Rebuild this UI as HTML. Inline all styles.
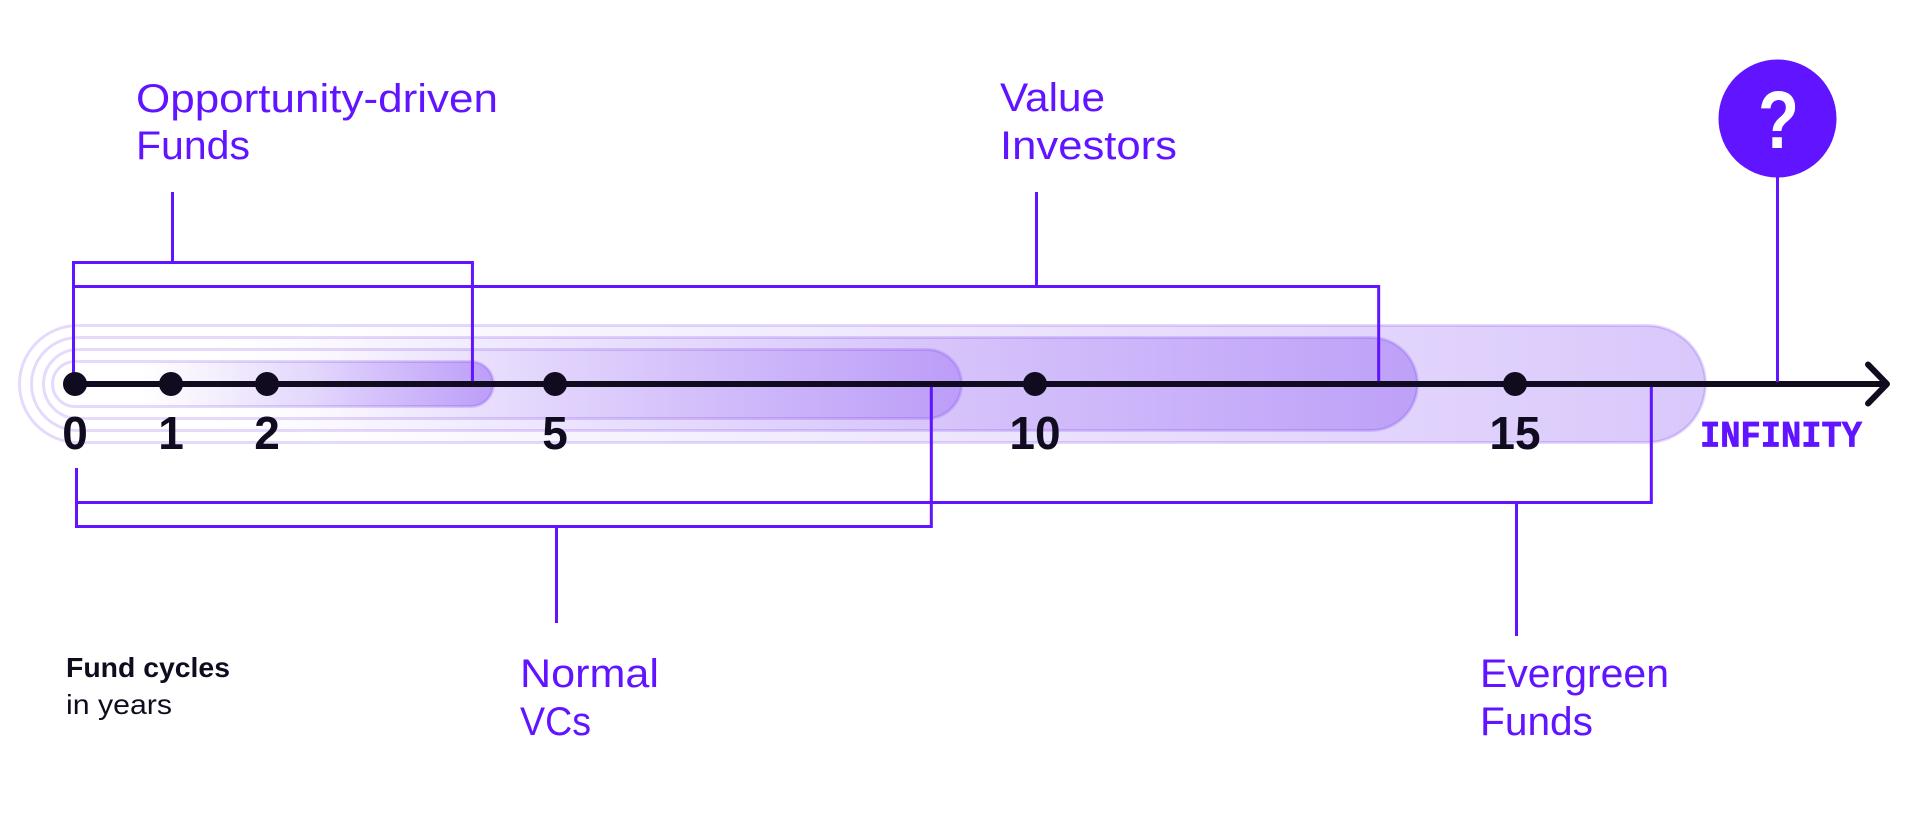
<!DOCTYPE html>
<html lang="en">
<head>
<meta charset="utf-8">
<title>Fund cycles in years</title>
<style>
  html, body { margin: 0; padding: 0; background: #ffffff; }
  svg { display: block; }
  .label { font-family: "Liberation Sans", sans-serif; font-size: 40px; fill: #6114ff; }
  .note { font-family: "Liberation Sans", sans-serif; font-size: 28px; fill: #110b1f; }
  .tick { font-family: "Liberation Sans", sans-serif; font-size: 46px; font-weight: 700; fill: #110b1f; text-anchor: middle; }
</style>
</head>
<body>
<svg id="chart" xmlns="http://www.w3.org/2000/svg" width="1920" height="816" viewBox="0 0 1920 816">
  <defs id="defs"></defs>
  <g id="bands"></g>
  <g id="brackets"></g>
  <g id="axis"></g>
  <g id="ticks"></g>

  <text class="label" x="136" y="112" textLength="362" lengthAdjust="spacingAndGlyphs">Opportunity-driven</text>
  <text class="label" x="136" y="159" textLength="114" lengthAdjust="spacingAndGlyphs">Funds</text>
  <text class="label" x="1000" y="111" textLength="105" lengthAdjust="spacingAndGlyphs">Value</text>
  <text class="label" x="1000" y="159" textLength="177" lengthAdjust="spacingAndGlyphs">Investors</text>
  <text class="label" x="520" y="687" textLength="139" lengthAdjust="spacingAndGlyphs">Normal</text>
  <text class="label" x="520" y="735" textLength="71" lengthAdjust="spacingAndGlyphs">VCs</text>
  <text class="label" x="1480" y="687" textLength="189" lengthAdjust="spacingAndGlyphs">Evergreen</text>
  <text class="label" x="1480" y="735" textLength="113" lengthAdjust="spacingAndGlyphs">Funds</text>

  <text class="note" x="66" y="677" font-weight="700" textLength="164" lengthAdjust="spacingAndGlyphs">Fund cycles</text>
  <text class="note" x="66" y="714" textLength="106" lengthAdjust="spacingAndGlyphs">in years</text>

  <line x1="1777.5" y1="170" x2="1777.5" y2="382" stroke="#6114ff" stroke-width="3"/>
  <circle cx="1777.5" cy="118.5" r="59" fill="#6114ff"/>
  <text x="1758" y="148" font-family="'Liberation Sans', sans-serif" font-weight="700" font-size="82" fill="#ffffff" textLength="41" lengthAdjust="spacingAndGlyphs">?</text>
  <text x="1700" y="446.5" font-family="'Liberation Mono', monospace" font-weight="700" font-size="37" fill="#6114ff" stroke="#6114ff" stroke-width="0.8" textLength="162" lengthAdjust="spacingAndGlyphs">INFINITY</text>
</svg>

<script>
// ---- chart data (years) ----
const tickYears = [0, 1, 2, 5, 10, 15];
const tickLabels = ["0", "1", "2", "5", "10", "15"];
const fundNames = ["evergreen", "value", "normal", "opportunity"];
const fundBandEndYears = [16.375, 13.5, 8.875, 4.125];
const fundBracketEndYears = [16.42, 13.58, 8.92, 4.14];

// ---- scale ----
const SVGNS = "http://www.w3.org/2000/svg";
const axisY = 384;
function xScale(year) { return 75 + 96 * year; }

// ---- band styling ----
const bandRadius = { evergreen: 60, value: 48, normal: 36, opportunity: 24 };
const bandLeft = { evergreen: 18, value: 30, normal: 42, opportunity: 51 };
const bandFade = { evergreen: 0.17, value: 0.13, normal: 0.3, opportunity: 0.2 };
const bandAlpha = { evergreen: 0.24, value: 0.27, normal: 0.22, opportunity: 0.32 };
const purple = "#6018ee";
const ink = "#110b1f";

function make(tag, parent, attrs) {
  const el = document.createElementNS(SVGNS, tag);
  Object.keys(attrs).forEach(function (k) { el.setAttribute(k, attrs[k]); });
  parent.appendChild(el);
  return el;
}

const defs = document.getElementById("defs");
const bandsLayer = document.getElementById("bands");
const bracketsLayer = document.getElementById("brackets");
const axisLayer = document.getElementById("axis");
const ticksLayer = document.getElementById("ticks");

// ---- bands ----
fundNames.forEach(function (name, i) {
  const r = bandRadius[name];
  const grad = make("linearGradient", defs, { id: "grad-" + name, x1: "0", y1: "0", x2: "1", y2: "0" });
  make("stop", grad, { offset: "0", "stop-color": purple, "stop-opacity": "0" });
  make("stop", grad, { offset: String(bandFade[name]), "stop-color": purple, "stop-opacity": "0" });
  make("stop", grad, { offset: "1", "stop-color": purple, "stop-opacity": String(bandAlpha[name]) });

  const left = bandLeft[name];
  const right = xScale(fundBandEndYears[i]) + r;
  const band = make("rect", bandsLayer, {
    x: left + 1.5, y: axisY - r + 1.5,
    width: right - left - 3, height: 2 * r - 3,
    rx: r - 1.5, ry: r - 1.5,
    fill: "url(#grad-" + name + ")",
    stroke: purple, "stroke-opacity": "0.16", "stroke-width": "3"
  });
  
  
});

// ---- brackets ----
const bracketStroke = { fill: "none", stroke: "#6114ff", "stroke-width": "3" };
function bracket(d) {
  const attrs = Object.assign({ d: d }, bracketStroke);
  return make("path", bracketsLayer, attrs);
}
const xLeftTop = 73.5;
const xLeftBottom = 76.5;

const opportunityEnd = xScale(fundBracketEndYears[3]);
const opportunityBracket = bracket("M" + xLeftTop + " 375V262.5H" + opportunityEnd + "V381 M172.5 262.5V192");



const valueEnd = xScale(fundBracketEndYears[1]);
const valueBracket = bracket("M" + xLeftTop + " 286.5H" + valueEnd + "V381 M1036.5 286.5V192");



const normalEnd = xScale(fundBracketEndYears[2]);
const normalBracket = bracket("M" + xLeftBottom + " 468V526.5H" + normalEnd + "V387 M556.5 526.5V623");



const evergreenEnd = xScale(fundBracketEndYears[0]);
const evergreenBracket = bracket("M" + xLeftBottom + " 502.5H" + evergreenEnd + "V387 M1516.5 502.5V636");



// ---- axis ----
const axisLine = make("line", axisLayer, { x1: xScale(0), y1: axisY, x2: 1885, y2: axisY, stroke: ink, "stroke-width": "6" });



const axisArrow = make("path", axisLayer, {
  d: "M1868 364.5L1887 384L1868 403.5", fill: "none", stroke: ink,
  "stroke-width": "6", "stroke-linecap": "round", "stroke-linejoin": "round"
});



// ---- ticks ----
tickYears.forEach(function (year, i) {
  const dot = make("circle", ticksLayer, { cx: xScale(year), cy: axisY, r: 12, fill: ink });
  
  

  const label = make("text", ticksLayer, { x: xScale(year), y: 449, class: "tick" });
  label.textContent = tickLabels[i];
  
  
});
</script>
</body>
</html>
